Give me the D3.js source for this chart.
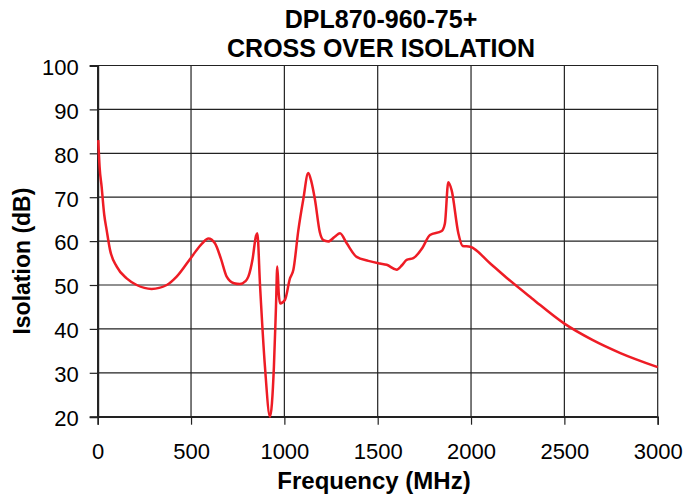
<!DOCTYPE html>
<html><head><meta charset="utf-8">
<script src="https://cdn.jsdelivr.net/npm/d3@7"></script>
<style>html,body{margin:0;padding:0;background:#fff;}svg{display:block;}</style>
</head><body>
<script>
const titleLines = ["DPL870-960-75+", "CROSS OVER ISOLATION"];
const xLabel = "Frequency (MHz)";
const yLabel = "Isolation (dB)";
const xTicks = [0, 500, 1000, 1500, 2000, 2500, 3000];
const yTicks = [20, 30, 40, 50, 60, 70, 80, 90, 100];
const freq = [3, 10, 21, 35, 48, 66, 102, 155, 209, 289, 370, 423, 503, 560, 593, 628, 660, 691, 730, 762, 790, 807, 830, 848, 855, 870, 896, 923, 944, 955, 962, 970, 977, 1003, 1030, 1048, 1075, 1101, 1128, 1145, 1164, 1190, 1209, 1235, 1270, 1298, 1334, 1387, 1450, 1512, 1548, 1602, 1630, 1655, 1691, 1740, 1780, 1843, 1860, 1878, 1896, 1932, 1955, 1995, 2100, 2200, 2325, 2500, 2650, 2800, 3000];
const isolation = [83, 77, 72.4, 66, 62.5, 58, 54.2, 51.5, 50, 49.1, 50, 51.9, 56.4, 59.5, 60.6, 59.5, 56, 51.9, 50.4, 50.2, 50.8, 51.9, 56, 61.2, 61.8, 49.6, 31.4, 20, 31.4, 45, 54.2, 48, 45.8, 46.6, 51.5, 53.4, 62.5, 69.4, 75.5, 73.5, 69.4, 62, 60.2, 59.9, 61, 61.8, 59.5, 56.4, 55.5, 54.9, 54.6, 53.5, 54.5, 55.7, 56.1, 58.5, 61.4, 62.3, 64, 73.4, 71.6, 61.8, 58.9, 58.7, 55, 51.3, 47, 41.2, 37.5, 34.5, 31.3];

const W = 685, H = 495;
const m = {left: 97.7, right: 685 - 657.7, top: 65.5, bottom: 495 - 416.7};
const svg = d3.select("body").append("svg").attr("width", W).attr("height", H);
const x = d3.scaleLinear().domain([0, 3000]).range([m.left, W - m.right]);
const y = d3.scaleLinear().domain([20, 100]).range([H - m.bottom, m.top]);
const font = "Liberation Sans, Arial, Helvetica, sans-serif";

// grid
svg.append("g").selectAll("line").data(xTicks).join("line")
  .attr("x1", d => x(d)).attr("x2", d => x(d)).attr("y1", y(20)).attr("y2", y(100))
  .attr("stroke", "#222").attr("stroke-width", 1.2);
svg.append("g").selectAll("line").data(yTicks).join("line")
  .attr("x1", x(0)).attr("x2", x(3000)).attr("y1", d => y(d)).attr("y2", d => y(d))
  .attr("stroke", "#222").attr("stroke-width", 1.2);

// axes
const xAxis = d3.axisBottom(x).tickValues(xTicks).tickSize(8).tickPadding(19).tickFormat(d3.format("d"));
const gx = svg.append("g").attr("transform", `translate(0,${y(20)})`).call(xAxis);
const yAxis = d3.axisLeft(y).tickValues(yTicks).tickSize(8).tickPadding(11).tickFormat(d3.format("d"));
const gy = svg.append("g").attr("transform", `translate(${x(0)},0)`).call(yAxis);
[gx, gy].forEach(g => {
  g.select(".domain").attr("stroke", "#222").attr("stroke-width", 1.5);
  g.selectAll(".tick line").attr("stroke", "#222").attr("stroke-width", 1.2);
  g.selectAll(".tick text").attr("font-family", font).attr("font-size", 22).attr("fill", "#000");
});
gy.selectAll(".tick text").attr("dy", "0.4em");
gy.select(".domain").attr("stroke-width", 2);

// line
const line = d3.line().x((d, i) => x(freq[i])).y(d => y(d)).curve(d3.curveMonotoneX);
svg.append("path").datum(isolation).attr("d", line)
  .attr("fill", "none").attr("stroke", "#ee1c25").attr("stroke-width", 2.5)
  .attr("stroke-linejoin", "round");

// titles
svg.append("g").selectAll("text").data(titleLines).join("text")
  .attr("x", 381).attr("y", (d, i) => 28 + i * 29)
  .attr("text-anchor", "middle").attr("font-family", font).attr("font-weight", "bold")
  .attr("font-size", 25).text(d => d);
svg.append("text").attr("x", 374).attr("y", 489)
  .attr("text-anchor", "middle").attr("font-family", font).attr("font-weight", "bold")
  .attr("font-size", 24).text(xLabel);
svg.append("text").attr("transform", `translate(30,${(y(20) + y(100)) / 2 + 20}) rotate(-90)`)
  .attr("text-anchor", "middle").attr("font-family", font).attr("font-weight", "bold")
  .attr("font-size", 23).text(yLabel);
</script>
</body></html>
